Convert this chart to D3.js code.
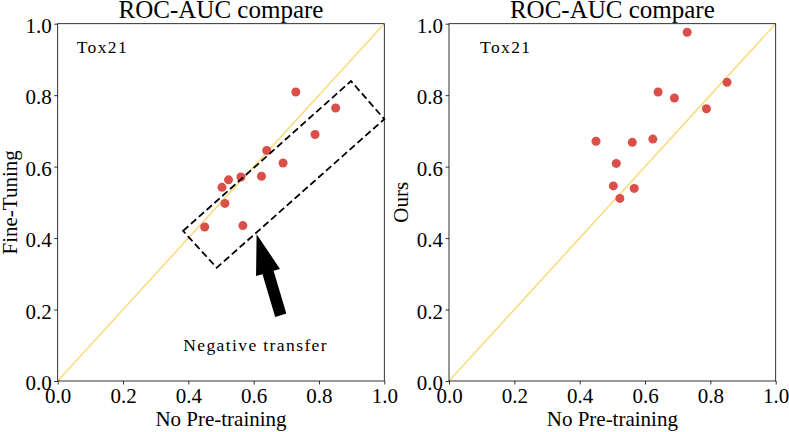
<!DOCTYPE html>
<meta charset="utf-8">
<style>
  body { margin: 0; background: #fff; }
  text { font-family: "Liberation Serif", "Times New Roman", serif; fill: #000; }
  .tick text { font-size: 21px; }
  .tick line { stroke: #000; stroke-width: 0.8; }
  .spine { fill: none; stroke: #000; stroke-width: 0.8; }
  .note { font-size: 17.5px; letter-spacing: 1.4px; }
</style>
<body>
<script src="https://cdn.jsdelivr.net/npm/d3@7"></script>
<script>
// values
var noPretrain = [0.450, 0.503, 0.523, 0.512, 0.561, 0.567, 0.624, 0.640, 0.690, 0.729, 0.788, 0.851];
var fineTuning = [0.431, 0.542, 0.563, 0.497, 0.571, 0.435, 0.573, 0.645, 0.610, 0.809, 0.690, 0.764];
var ours       = [0.671, 0.546, 0.511, 0.609, 0.668, 0.539, 0.677, 0.809, 0.792, 0.976, 0.762, 0.836];
var tickVals = [0, 0.2, 0.4, 0.6, 0.8, 1.0];

// negative transfer box (data coords) and arrow (tip, tail)
var boxCorners = [[0.384, 0.420], [0.898, 0.8395], [1.0, 0.733], [0.487, 0.317]];
var arrowTip = [0.609, 0.411], arrowTail = [0.683, 0.184];

var width = 789, height = 432;
var svg = d3.select("body").append("svg")
    .attr("width", width)
    .attr("height", height);

var plotTop = 23.7, plotBottom = 381;

var panels = [
  { left: 57.7, right: 384.3, y: fineTuning, ylabel: "Fine-Tuning", ylabelX: 17, noteX: 0.058, extra: true },
  { left: 449, right: 775.7, y: ours, ylabel: "Ours", ylabelX: 408, noteX: 0.095, extra: false }
];

panels.forEach(function(p) {
  var x = d3.scaleLinear().domain([0, 1]).range([p.left, p.right]);
  var y = d3.scaleLinear().domain([0, 1]).range([plotBottom, plotTop]);
  var g = svg.append("g");

  // diagonal
  g.append("line")
    .attr("x1", x(0)).attr("y1", y(0))
    .attr("x2", x(1)).attr("y2", y(1))
    .attr("stroke", "#fbdc80")
    .attr("stroke-width", 1.6);

  g.selectAll("circle")
    .data(noPretrain)
  .enter().append("circle")
    .attr("cx", function(d) { return x(d); })
    .attr("cy", function(d, i) { return y(p.y[i]); })
    .attr("r", 4.5)
    .attr("fill", "#db4f4a");

  if (p.extra) {
    g.append("path")
      .attr("d", "M" + boxCorners.map(function(c) { return [x(c[0]), y(c[1])]; }).join("L") + "Z")
      .attr("fill", "none")
      .attr("stroke", "#000")
      .attr("stroke-width", 1.8)
      .attr("stroke-dasharray", "7,3.5");

    // arrow polygon built in pixel space
    var tx = x(arrowTip[0]), ty = y(arrowTip[1]);
    var bx = x(arrowTail[0]), by = y(arrowTail[1]);
    var len = Math.hypot(tx - bx, ty - by);
    var ux = (tx - bx) / len, uy = (ty - by) / len;
    var nx = -uy, ny = ux;
    var headLen = 40, headW = 12.5, shaftW = 5.8;
    var hx = tx - ux * headLen, hy = ty - uy * headLen;
    var pts = [
      [bx + nx * shaftW, by + ny * shaftW],
      [hx + nx * shaftW, hy + ny * shaftW],
      [hx + nx * headW, hy + ny * headW],
      [tx, ty],
      [hx - nx * headW, hy - ny * headW],
      [hx - nx * shaftW, hy - ny * shaftW],
      [bx - nx * shaftW, by - ny * shaftW]
    ];
    g.append("path")
      .attr("d", "M" + pts.join("L") + "Z")
      .attr("fill", "#000");

    g.append("text")
      .attr("class", "note")
      .attr("x", x(0.606))
      .attr("y", y(0.084))
      .attr("text-anchor", "middle")
      .text("Negative transfer");
  }

  g.append("text")
    .attr("class", "note")
    .attr("x", x(p.noteX))
    .attr("y", y(0.919))
    .text("Tox21");

  var xAxis = g.append("g")
    .attr("transform", "translate(0," + plotBottom + ")")
    .call(d3.axisBottom(x).tickValues(tickVals).tickFormat(d3.format(".1f")).tickSizeOuter(0).tickSize(3.5).tickPadding(2));
  xAxis.select(".domain").remove();
  xAxis.selectAll("text").attr("dy", "0.78em");

  var yAxis = g.append("g")
    .attr("transform", "translate(" + p.left + ",0)")
    .call(d3.axisLeft(y).tickValues(tickVals).tickFormat(d3.format(".1f")).tickSizeOuter(0).tickSize(3.5).tickPadding(2.5));
  yAxis.select(".domain").remove();
  yAxis.selectAll("text").attr("dy", "0.42em");
  xAxis.attr("font-family", null).attr("font-size", null);
  yAxis.attr("font-family", null).attr("font-size", null);

  g.append("rect")
    .attr("class", "spine")
    .attr("x", p.left).attr("y", plotTop)
    .attr("width", p.right - p.left).attr("height", plotBottom - plotTop);

  g.append("text")
    .attr("x", (p.left + p.right) / 2)
    .attr("y", 17.5)
    .attr("text-anchor", "middle")
    .style("font-size", "25px")
    .text("ROC-AUC compare");

  g.append("text")
    .attr("x", (p.left + p.right) / 2)
    .attr("y", 426)
    .attr("text-anchor", "middle")
    .style("font-size", "21px")
    .text("No Pre-training");

  g.append("text")
    .attr("transform", "translate(" + p.ylabelX + "," + (plotTop + plotBottom) / 2 + ") rotate(-90)")
    .attr("text-anchor", "middle")
    .style("font-size", "21px")
    .text(p.ylabel);
});
</script>
